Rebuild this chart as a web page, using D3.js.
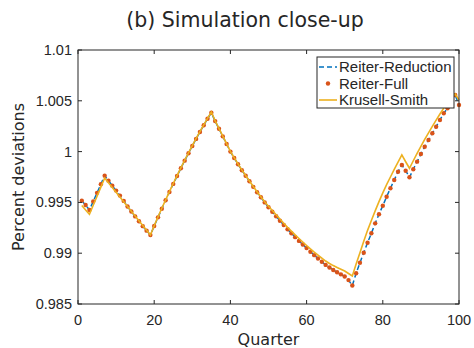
<!DOCTYPE html>
<html>
<head>
<meta charset="utf-8">
<script src="https://cdn.jsdelivr.net/npm/d3@7"></script>
<style>
  body { margin: 0; background: #fff; }
  svg { display: block; }
  .tick-label { font-family: "Liberation Sans", Arial, sans-serif; font-size: 14.5px; fill: #262626; }
  .label { font-family: "DejaVu Sans", sans-serif; fill: #262626; }
  .legend text { font-family: "Liberation Sans", Arial, sans-serif; font-size: 15px; fill: #262626; }
</style>
</head>
<body>
<div id="chart"></div>
<script>
// Quarters 1..100
const quarters = d3.range(1, 101);

const xTicks = [0, 20, 40, 60, 80, 100];
const yTicks = [0.985, 0.99, 0.995, 1, 1.005, 1.01];

const reiterReduction = [
  0.99517, 0.99474, 0.99425, 0.99510, 0.99594, 0.99679, 0.99763, 0.99714, 0.99665, 0.99616,
  0.99567, 0.99515, 0.99460, 0.99410, 0.99362, 0.99315, 0.99266, 0.99222, 0.99179, 0.99267,
  0.99353, 0.99438, 0.99521, 0.99602, 0.99682, 0.99760, 0.99836, 0.99911, 0.99984, 1.00055,
  1.00125, 1.00193, 1.00259, 1.00324, 1.00383, 1.00300, 1.00225, 1.00150, 1.00075, 1.00000,
  0.99937, 0.99876, 0.99817, 0.99762, 0.99708, 0.99653, 0.99600, 0.99550, 0.99500, 0.99453,
  0.99408, 0.99364, 0.99320, 0.99277, 0.99235, 0.99196, 0.99158, 0.99121, 0.99085, 0.99050,
  0.99015, 0.98981, 0.98948, 0.98916, 0.98885, 0.98859, 0.98835, 0.98813, 0.98792, 0.98770,
  0.98735, 0.98682, 0.98802, 0.98906, 0.99005, 0.99103, 0.99196, 0.99294, 0.99383, 0.99467,
  0.99556, 0.99639, 0.99720, 0.99802, 0.99868, 0.99812, 0.99747, 0.99826, 0.99901, 0.99976,
  1.00048, 1.00114, 1.00180, 1.00245, 1.00311, 1.00377, 1.00426, 1.00508, 1.00557, 1.00459
];

const reiterFull = [
  0.99517, 0.99474, 0.99425, 0.99510, 0.99594, 0.99679, 0.99763, 0.99714, 0.99665, 0.99616,
  0.99567, 0.99515, 0.99460, 0.99410, 0.99362, 0.99315, 0.99266, 0.99222, 0.99179, 0.99267,
  0.99353, 0.99438, 0.99521, 0.99602, 0.99682, 0.99760, 0.99836, 0.99911, 0.99984, 1.00055,
  1.00125, 1.00193, 1.00259, 1.00324, 1.00383, 1.00300, 1.00225, 1.00150, 1.00075, 1.00000,
  0.99937, 0.99876, 0.99817, 0.99762, 0.99708, 0.99653, 0.99600, 0.99550, 0.99500, 0.99453,
  0.99408, 0.99364, 0.99320, 0.99277, 0.99235, 0.99196, 0.99158, 0.99121, 0.99085, 0.99050,
  0.99015, 0.98981, 0.98948, 0.98916, 0.98885, 0.98859, 0.98835, 0.98813, 0.98792, 0.98770,
  0.98735, 0.98682, 0.98802, 0.98906, 0.99005, 0.99103, 0.99196, 0.99294, 0.99383, 0.99467,
  0.99556, 0.99639, 0.99720, 0.99802, 0.99868, 0.99812, 0.99747, 0.99826, 0.99901, 0.99976,
  1.00048, 1.00114, 1.00180, 1.00245, 1.00311, 1.00377, 1.00426, 1.00508, 1.00557, 1.00459
];

const krusellSmith = [
  0.99470, 0.99425, 0.99383, 0.99472, 0.99561, 0.99650, 0.99740, 0.99693, 0.99646, 0.99600,
  0.99553, 0.99506, 0.99460, 0.99413, 0.99366, 0.99319, 0.99273, 0.99226, 0.99179, 0.99270,
  0.99357, 0.99442, 0.99525, 0.99606, 0.99686, 0.99764, 0.99840, 0.99915, 0.99988, 1.00059,
  1.00129, 1.00197, 1.00263, 1.00328, 1.00390, 1.00303, 1.00228, 1.00153, 1.00078, 1.00003,
  0.99940, 0.99879, 0.99820, 0.99765, 0.99711, 0.99656, 0.99604, 0.99555, 0.99507, 0.99463,
  0.99420, 0.99379, 0.99336, 0.99295, 0.99255, 0.99217, 0.99180, 0.99145, 0.99110, 0.99076,
  0.99042, 0.99010, 0.98980, 0.98951, 0.98923, 0.98899, 0.98878, 0.98860, 0.98842, 0.98825,
  0.98800, 0.98776, 0.98893, 0.99005, 0.99117, 0.99225, 0.99322, 0.99417, 0.99508, 0.99594,
  0.99675, 0.99750, 0.99824, 0.99896, 0.99967, 0.99900, 0.99836, 0.99910, 0.99982, 1.00052,
  1.00120, 1.00185, 1.00248, 1.00310, 1.00370, 1.00428, 1.00485, 1.00530, 1.00567, 1.00508
];

const W = 474, H = 348;
const margin = { top: 50, right: 15, bottom: 44, left: 78 };
const width = W - margin.left - margin.right;
const height = H - margin.top - margin.bottom;

const colBlue = "#0072BD", colRed = "#D95319", colYellow = "#EDB120", axisCol = "#262626";

const svg = d3.select("#chart").append("svg")
  .attr("width", W)
  .attr("height", H);

const x = d3.scaleLinear().domain([0, 100]).range([0, width]);
const y = d3.scaleLinear().domain([0.985, 1.01]).range([height, 0]);

const g = svg.append("g")
  .attr("transform", `translate(${margin.left},${margin.top})`);

// title
svg.append("text")
  .attr("class", "label")
  .attr("x", 245)
  .attr("y", 27)
  .attr("text-anchor", "middle")
  .style("font-size", "20.5px")
  .text("(b) Simulation close-up");

// series
const line = d3.line()
  .x((d, i) => x(quarters[i]))
  .y(d => y(d));

g.append("path")
  .datum(reiterReduction)
  .attr("d", line)
  .attr("fill", "none")
  .attr("stroke", colBlue)
  .attr("stroke-width", 1.5)
  .attr("stroke-dasharray", "5,3");

g.selectAll("circle.full")
  .data(reiterFull)
  .enter().append("circle")
  .attr("class", "full")
  .attr("cx", (d, i) => x(quarters[i]))
  .attr("cy", d => y(d))
  .attr("r", 2.2)
  .attr("fill", colRed);

g.append("path")
  .datum(krusellSmith)
  .attr("d", line)
  .attr("fill", "none")
  .attr("stroke", colYellow)
  .attr("stroke-width", 1.6);

// axes box with inward ticks (MATLAB style)
const tickLen = 4;
const frame = g.append("g").attr("stroke", axisCol).attr("stroke-width", 1).attr("fill", "none");
frame.append("rect")
  .attr("x", 0).attr("y", 0)
  .attr("width", width).attr("height", height);

xTicks.forEach(t => {
  frame.append("line").attr("x1", x(t)).attr("x2", x(t)).attr("y1", height).attr("y2", height - tickLen);
  frame.append("line").attr("x1", x(t)).attr("x2", x(t)).attr("y1", 0).attr("y2", tickLen);
});
yTicks.forEach(t => {
  frame.append("line").attr("x1", 0).attr("x2", tickLen).attr("y1", y(t)).attr("y2", y(t));
  frame.append("line").attr("x1", width).attr("x2", width - tickLen).attr("y1", y(t)).attr("y2", y(t));
});

g.selectAll("text.xt")
  .data(xTicks)
  .enter().append("text")
  .attr("class", "tick-label xt")
  .attr("x", d => x(d))
  .attr("y", height + 21)
  .attr("text-anchor", "middle")
  .text(d => d);

g.selectAll("text.yt")
  .data(yTicks)
  .enter().append("text")
  .attr("class", "tick-label yt")
  .attr("x", -6)
  .attr("y", d => y(d) + 5)
  .attr("text-anchor", "end")
  .text(d => d3.format("~g")(d));

g.append("text")
  .attr("class", "label")
  .attr("x", width / 2)
  .attr("y", height + 41)
  .attr("text-anchor", "middle")
  .style("font-size", "16px")
  .text("Quarter");

g.append("text")
  .attr("class", "label")
  .attr("transform", "rotate(-90)")
  .attr("x", -height / 2)
  .attr("y", -54)
  .attr("text-anchor", "middle")
  .style("font-size", "16px")
  .text("Percent deviations");

// legend
const legend = svg.append("g")
  .attr("class", "legend")
  .attr("transform", "translate(317,57)");

legend.append("rect")
  .attr("width", 137).attr("height", 51)
  .attr("fill", "#fff")
  .attr("stroke", axisCol)
  .attr("stroke-width", 1);

const items = ["Reiter-Reduction", "Reiter-Full", "Krusell-Smith"];
items.forEach((name, i) => {
  const cy = 10 + i * 16.5;
  const row = legend.append("g");
  if (i === 0) {
    row.append("line").attr("x1", 2).attr("x2", 20).attr("y1", cy).attr("y2", cy)
      .attr("stroke", colBlue).attr("stroke-width", 1.5).attr("stroke-dasharray", "5,3");
  } else if (i === 1) {
    row.append("circle").attr("cx", 11).attr("cy", cy).attr("r", 2.2).attr("fill", colRed);
  } else {
    row.append("line").attr("x1", 2).attr("x2", 20).attr("y1", cy).attr("y2", cy)
      .attr("stroke", colYellow).attr("stroke-width", 1.6);
  }
  row.append("text").attr("x", 22).attr("y", cy + 5).text(name);
});
</script>
</body>
</html>
